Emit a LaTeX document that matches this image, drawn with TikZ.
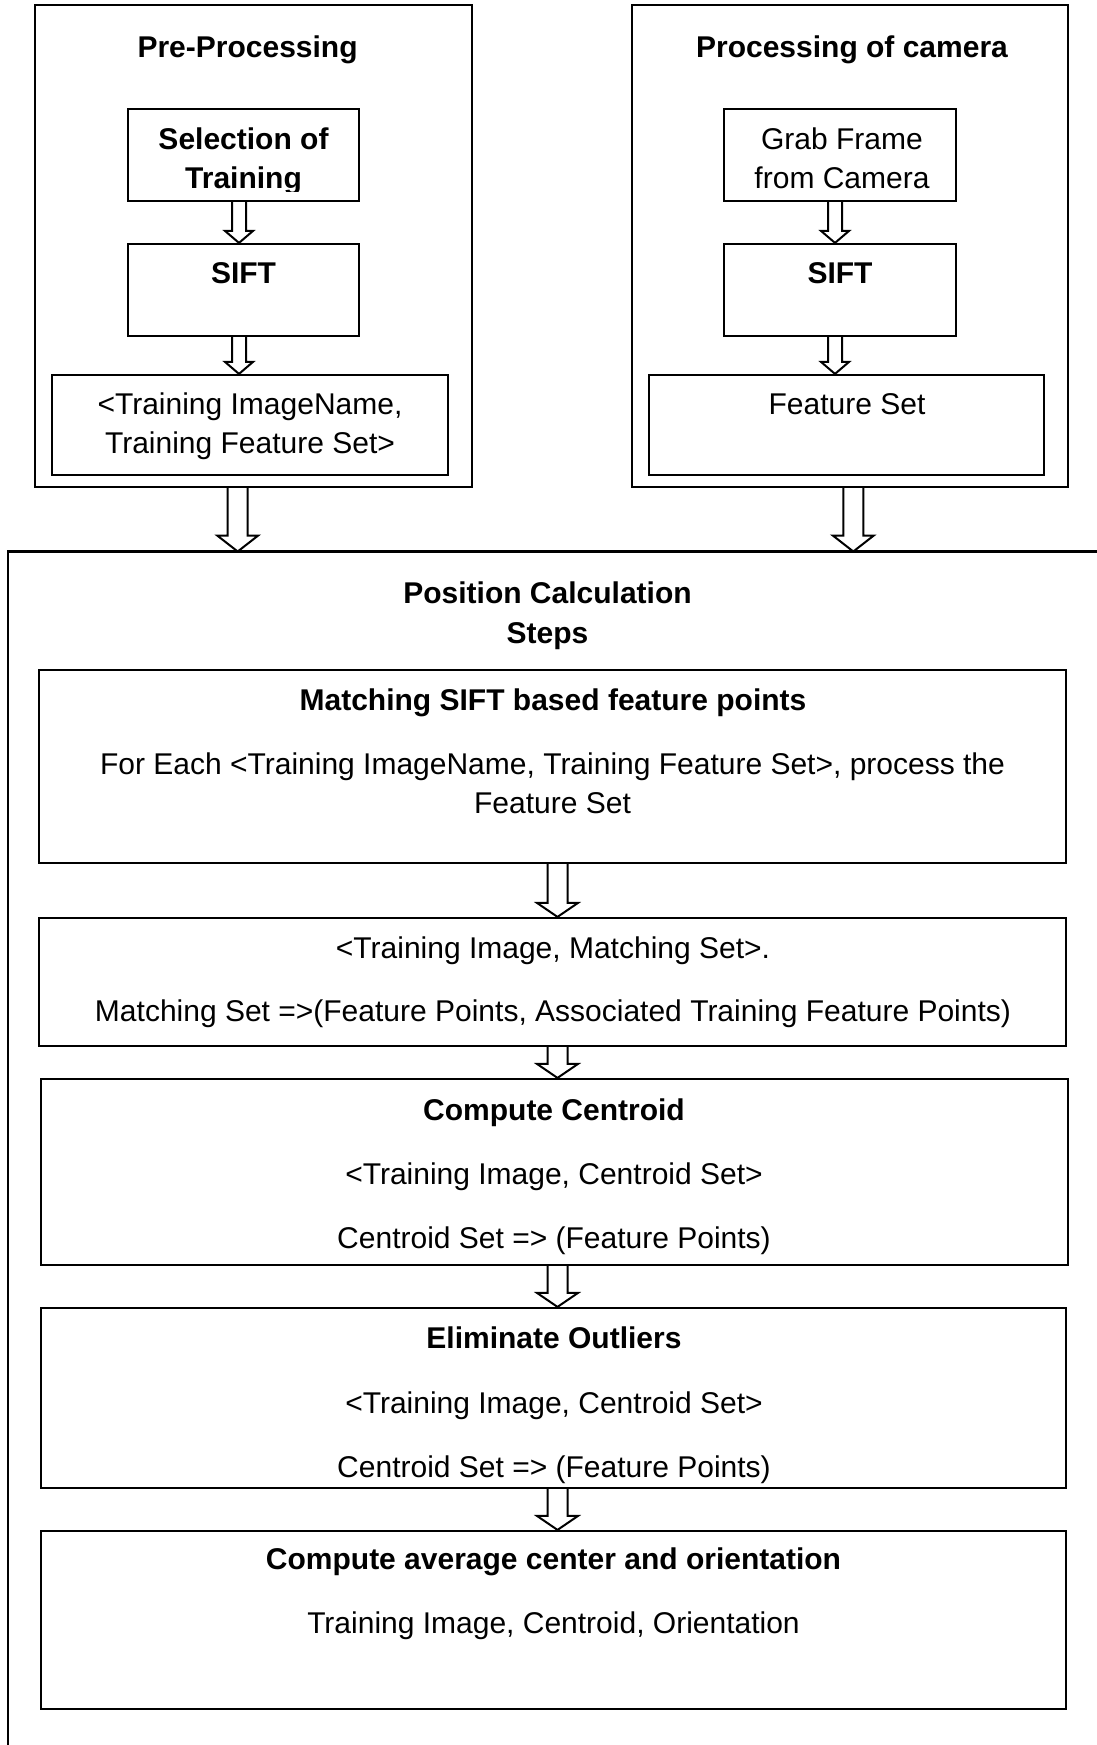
\documentclass[tikz,border=0pt]{standalone}
\usepackage{fontspec}
\setmainfont{Liberation Sans}
\usetikzlibrary{calc}
\tikzset{
  frame/.style={draw=black, line width=2.2pt},
  box/.style={draw=black, line width=2.2pt, rectangle, inner sep=0pt},
  txt/.style={anchor=base, inner sep=0pt, font=\fontsize{30}{36}\selectfont},
  btxt/.style={anchor=base, inner sep=0pt, font=\fontsize{30}{36}\selectfont\bfseries},
  barrow/.style={draw=black, line width=2pt, line join=miter},
}
% #1 start point, #2 tip point, #3 x of arrow, #4 shaft half width, #5 head half width, #6 head length
\newcommand\blockarrow[6]{%
  \path[barrow] let \p1=#1, \p2=#2, \p3=(#3,0) in
    (\x3-#4,\y1) -- (\x3-#4,\y2+#6) -- (\x3-#5,\y2+#6) -- (\x3,\y2)
    -- (\x3+#5,\y2+#6) -- (\x3+#4,\y2+#6) -- (\x3+#4,\y1);}
\begin{document}
\begin{tikzpicture}[x=1pt,y=-1pt]
\useasboundingbox[fill=white] (0,0) rectangle (1096,1745);

% ---------- top left: Pre-Processing ----------
\node[box, minimum width=437pt, minimum height=482pt] (pp) at (253.5,246) {};
\node[btxt] (ppt) at (247.6,57.7) {Pre-Processing};
\node[box, minimum width=231pt, minimum height=92pt] (sel) at (243.5,155) {};
\begin{scope}
  \clip (128,109) rectangle (359,191);
  \node[btxt] (selt1) at (243.5,149) {Selection of};
  \node[btxt] (selt2) at (243.5,188) {Training};
\end{scope}
\node[box, minimum width=231pt, minimum height=92pt] (siftl) at (243.5,290) {};
\node[btxt] (siftlt) at (243.5,283.6) {SIFT};
\node[box, minimum width=396pt, minimum height=100pt] (trn) at (250,425) {};
\node[txt] (trnt1) at (250,414) {<Training ImageName,};
\node[txt] (trnt2) at (250,453) {Training Feature Set>};

% ---------- top right: Processing of camera ----------
\node[box, minimum width=436pt, minimum height=482pt] (pc) at (850,246) {};
\node[btxt] (pct) at (852,57.7) {Processing of camera};
\node[box, minimum width=232pt, minimum height=92pt] (grab) at (840,155) {};
\node[txt] (grabt1) at (842,149) {Grab Frame};
\node[txt] (grabt2) at (842,188) {from Camera};
\node[box, minimum width=232pt, minimum height=92pt] (siftr) at (840,290) {};
\node[btxt] (siftrt) at (840,283.6) {SIFT};
\node[box, minimum width=395pt, minimum height=100pt] (fs) at (846.5,425) {};
\node[txt] (fst) at (847,414) {Feature Set};

% small arrows
\blockarrow{(sel.south)}{(siftl.north)}{239}{7}{14}{12}
\blockarrow{(siftl.south)}{(trn.north)}{239}{7}{14}{12}
\blockarrow{(grab.south)}{(siftr.north)}{835}{7}{14}{12}
\blockarrow{(siftr.south)}{(fs.north)}{835}{7}{14}{12}

% ---------- outer frame ----------
\coordinate (outtop) at (0,551.5);
\draw[frame] (8,1746) -- (8,551.5) -- (1097,551.5);
\blockarrow{(pp.south)}{(outtop)}{237.7}{10}{20.5}{16}
\blockarrow{(pc.south)}{(outtop)}{853.3}{10}{20.5}{16}

\node[btxt] (posa) at (547.5,603) {Position Calculation};
\node[btxt] (posb) at (547.5,643) {Steps};

% ---------- steps ----------
\node[box, minimum width=1027pt, minimum height=193pt] (match) at (552.5,766.5) {};
\node[btxt] (matcht) at (553,710) {Matching SIFT based feature points};
\node[txt] (matcht1) at (552.5,774) {For Each <Training ImageName, Training Feature Set>, process the};
\node[txt] (matcht2) at (552.5,813) {Feature Set};

\node[box, minimum width=1027pt, minimum height=128pt] (tim) at (552.5,982) {};
\node[txt] (timt1) at (553,958) {<Training Image, Matching Set>.};
\node[txt] (timt2) at (553,1021) {Matching Set =>(Feature Points, Associated Training Feature Points)};

\node[box, minimum width=1027pt, minimum height=186pt] (cc) at (554.5,1172) {};
\node[btxt] (cct) at (554,1120) {Compute Centroid};
\node[txt] (cct1) at (554,1184) {<Training Image, Centroid Set>};
\node[txt] (cct2) at (554,1248) {Centroid Set => (Feature Points)};

\node[box, minimum width=1025pt, minimum height=180pt] (el) at (553.5,1398) {};
\node[btxt] (elt) at (554,1348.5) {Eliminate Outliers};
\node[txt] (elt1) at (554,1413) {<Training Image, Centroid Set>};
\node[txt] (elt2) at (554,1477) {Centroid Set => (Feature Points)};

\node[box, minimum width=1025pt, minimum height=178pt] (avg) at (553.5,1620) {};
\node[btxt] (avgt) at (553.5,1569) {Compute average center and orientation};
\node[txt] (avgt1) at (553.5,1633.5) {Training Image, Centroid, Orientation};

\blockarrow{(match.south)}{(tim.north)}{557.5}{10}{20.5}{14}
\blockarrow{(tim.south)}{(cc.north)}{557.5}{10}{20.5}{14}
\blockarrow{(cc.south)}{(el.north)}{557.5}{10}{20.5}{14}
\blockarrow{(el.south)}{(avg.north)}{557.5}{10}{20.5}{14}
\end{tikzpicture}
\end{document}
